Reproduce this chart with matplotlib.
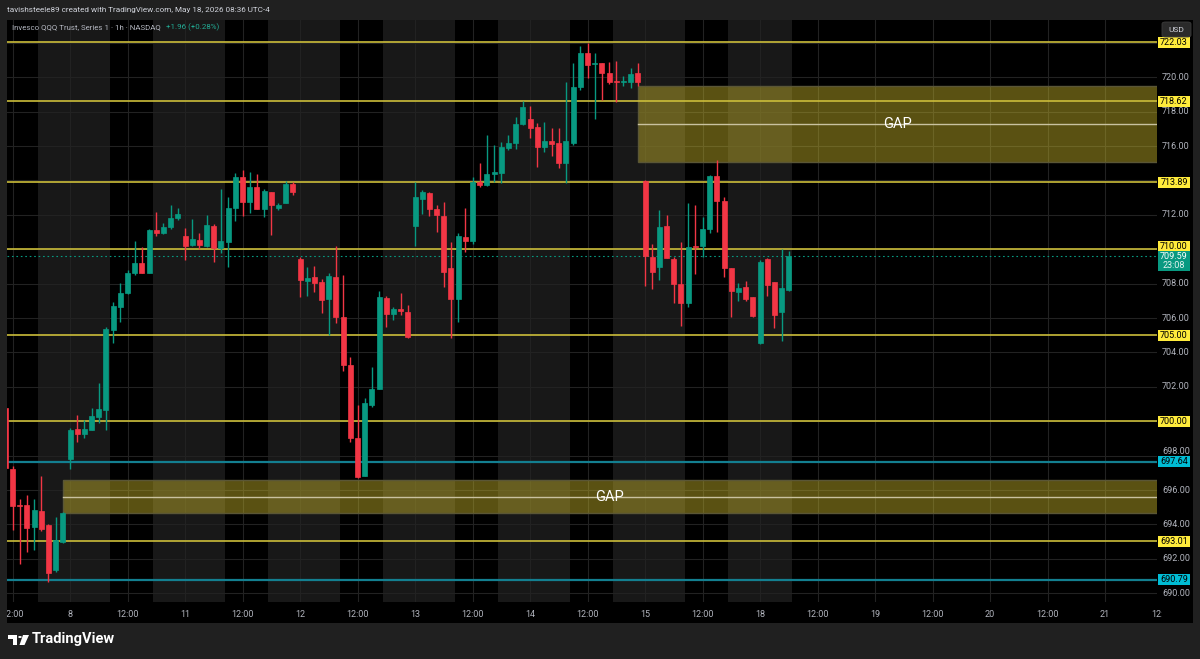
import matplotlib
matplotlib.use('Agg')
import matplotlib.pyplot as plt
from matplotlib.patches import Rectangle, FancyBboxPatch, Polygon, Circle

# ---------------- data ----------------
trading_days = ['05-07', '05-08', '05-11', '05-12', '05-13', '05-14', '05-15', '05-18']
first_hour = 11      # first visible bar on 05-07 (11:00)
last_hour = 8        # last bar on 05-18 (08:00)
session_first_hour = 4
bars_per_day = 16

opens = [700.76, 697.24, 695.15, 695.15, 693.85, 694.8, 693.95, 691.35, 692.95,
         697.8, 699.53, 699.26, 699.5, 700.26, 700.65, 705.3, 706.66, 707.44, 708.6, 709.18, 708.6, 711.1, 710.92, 711.27, 711.83,
         710.77, 710.23, 710.53, 710.19, 711.35, 710.1, 710.44, 712.38, 714.18, 712.73, 713.6, 712.34, 713.34, 712.41, 712.67, 713.77,
         709.43, 708.17, 708.4, 708.09, 707.09, 708.4, 706.06, 703.27, 699.0, 696.81, 700.94, 701.86, 707.14, 706.23, 706.52, 706.37,
         711.35, 712.94, 713.29, 712.34, 711.93, 708.89, 707.12, 710.73, 710.49, 713.92, 713.73, 714.39, 714.45, 715.87, 716.16, 717.28,
         717.55, 717.12, 715.96, 716.29, 716.16, 715.0, 716.19, 719.45, 721.42, 720.78, 720.81, 720.26, 719.76, 719.72, 719.7, 720.23,
         713.97, 709.56, 708.98, 711.35, 709.41, 707.98, 706.85, 710.2, 710.19, 711.17, 714.26, 712.8, 708.92, 707.53, 707.79, 707.24,
         704.56, 709.41, 708.11, 706.33, 707.63]
highs = [700.9, 697.4, 695.5, 695.7, 695.45, 696.8, 694.05, 694.45, 694.7,
         699.6, 700.36, 700.1, 700.75, 702.2, 705.5, 706.95, 708.05, 708.8, 710.5, 710.15, 711.15, 712.15, 711.5, 712.6, 712.4,
         711.25, 711.75, 710.92, 712.0, 711.47, 713.5, 713.05, 714.41, 714.6, 714.47, 714.4, 713.48, 713.34, 712.7, 713.98, 713.9,
         709.53, 708.98, 709.0, 708.25, 708.63, 710.19, 708.5, 703.71, 700.94, 701.33, 703.17, 707.57, 707.28, 706.63, 707.44, 706.76,
         713.92, 713.44, 713.33, 712.57, 712.73, 710.44, 710.92, 712.38, 714.22, 715.03, 716.64, 716.06, 716.25, 716.64, 717.67, 718.63,
         718.33, 717.35, 717.41, 717.03, 717.03, 719.74, 720.81, 721.81, 722.0, 721.39, 720.84, 720.9, 720.96, 720.1, 720.52, 720.84,
         714.0, 710.28, 712.28, 711.99, 709.53, 710.44, 712.67, 712.57, 711.89, 714.31, 715.19, 713.05, 708.92, 708.02, 708.17, 707.24,
         709.37, 709.47, 708.11, 710.01, 709.91]
lows = [697.2, 693.7, 691.7, 692.4, 692.5, 693.6, 690.65, 691.25, 692.9,
        697.2, 698.8, 699.0, 699.5, 699.9, 699.5, 704.56, 705.78, 707.4, 708.5, 708.6, 708.6, 710.77, 710.9, 711.2, 711.7,
        709.37, 710.2, 710.0, 710.15, 709.27, 709.76, 708.95, 711.66, 711.93, 712.12, 712.32, 711.89, 710.83, 712.3, 712.67, 713.15,
        707.24, 707.3, 707.53, 706.27, 705.0, 705.69, 702.94, 698.81, 696.7, 696.8, 700.84, 701.86, 705.49, 705.9, 706.2, 704.85,
        710.19, 712.03, 711.96, 711.02, 707.82, 704.86, 705.78, 709.85, 710.3, 713.63, 713.7, 713.92, 713.87, 715.8, 715.81, 717.2,
        716.45, 714.8, 715.63, 715.42, 714.7, 713.87, 716.06, 719.26, 719.94, 717.55, 718.67, 719.6, 718.58, 719.5, 719.35, 719.49,
        707.86, 707.67, 708.21, 709.5, 706.85, 705.55, 706.66, 708.56, 709.53, 710.96, 711.02, 708.37, 706.06, 707.0, 707.0, 706.08,
        704.49, 707.3, 705.4, 704.68, 707.6]
closes = [697.26, 695.1, 695.05, 693.8, 694.85, 693.75, 691.2, 693.1, 694.65,
          699.5, 699.24, 699.53, 700.32, 700.71, 705.36, 706.71, 707.44, 708.63, 709.21, 708.6, 711.1, 710.92, 711.29, 711.8, 712.03,
          710.19, 710.6, 710.24, 711.41, 710.05, 710.48, 712.38, 714.18, 712.76, 713.6, 712.32, 713.38, 712.57, 712.57, 713.77, 713.34,
          708.21, 708.34, 708.05, 707.05, 708.44, 706.08, 703.27, 699.0, 696.77, 701.04, 701.86, 707.24, 706.23, 706.52, 706.4, 704.88,
          713.05, 713.33, 712.34, 711.99, 708.69, 707.09, 710.77, 710.49, 713.89, 713.72, 714.37, 714.5, 715.92, 716.16, 717.28, 718.28,
          717.03, 715.96, 716.31, 716.12, 715.0, 716.29, 719.45, 721.42, 720.71, 720.84, 720.26, 719.7, 719.72, 719.78, 720.17, 719.7,
          709.6, 708.69, 711.27, 709.51, 707.98, 706.85, 710.15, 710.15, 711.17, 714.26, 712.8, 708.89, 707.57, 707.73, 707.09, 706.12,
          709.27, 707.92, 706.17, 707.73, 709.59]

yellow_levels = [722.03, 718.62, 713.89, 710.00, 705.00, 700.00, 693.01]
cyan_levels = [697.64, 690.79]
last_price = 709.59
countdown = '23:08'
gap_zones = [(79, 715.10, 719.48), (-1, 694.64, 696.56)]   # (start bar, low, high)
gap_label = 'GAP'
axis_days = ['7', '8', '11', '12', '13', '14', '15', '18', '19', '20', '21']
price_ticks = [690, 692, 694, 696, 698, 702, 704, 706, 708, 712, 716, 718, 720]

# bar positions from the trading calendar (16 hourly bars per session day, 04:00-19:00)
bar_pos = []
for di, d in enumerate(trading_days):
    for h in range(session_first_hour, session_first_hour + bars_per_day):
        if di == 0 and h < first_hour:
            continue
        if di == len(trading_days) - 1 and h > last_hour:
            continue
        bar_pos.append((di - 1) * bars_per_day + (h - session_first_hour))

# ---------------- style ----------------
W, H = 1200, 659
GREEN = '#089981'
RED = '#f23645'
YEL_LINE = '#cbbd3a'
YEL_TAG = '#ffeb3b'
CYAN_LINE = '#137f90'
CYAN_TAG = '#00bcd4'
TXT = '#b2b5be'
FONT = ['Roboto', 'DejaVu Sans']
plt.rcParams['font.family'] = FONT

fig = plt.figure(figsize=(12, 6.59), dpi=100)
fig.patch.set_facecolor('#202020')

px_left, px_right, px_top, px_bottom = 7, 1157, 20, 602
X0, X1 = -8.77, 151.23
Y0, Y1 = 689.49, 723.33

def fx(px):
    return px / W

def fy(py):
    return 1 - py / H

panel = fig.add_axes([fx(7), fy(623), fx(1193 - 7), (623 - 20) / H])
panel.set_facecolor('#000000')
panel.set_xticks([]); panel.set_yticks([])
for s in panel.spines.values():
    s.set_visible(False)
panel.set_zorder(0)

ax = fig.add_axes([fx(px_left), fy(px_bottom), (px_right - px_left) / W, (px_bottom - px_top) / H])
ax.set_zorder(1)
ax.set_facecolor('none')
ax.set_xlim(X0, X1)
ax.set_ylim(Y0, Y1)
ax.set_xticks([]); ax.set_yticks([])
for s in ax.spines.values():
    s.set_visible(False)

# extended-hours shading (post-market + next pre-market)
n_days = len(trading_days)
for di in range(n_days - 1):
    start = (di - 1) * bars_per_day + 11.5
    end = di * bars_per_day + 5.5
    if di == n_days - 2:
        end = bar_pos[-1] + 0.5
    ax.axvspan(start, end, color='#181818', lw=0, zorder=0)

# grid
for d in range(-1, len(axis_days) - 1):
    for off in (0, 8):
        ax.axvline(d * bars_per_day + off, color='#222222', lw=0.8, zorder=0.5)
for p in range(690, 724, 2):
    ax.axhline(p, color='#222222', lw=0.8, zorder=0.5)

# gap zones
for start, lo, hi in gap_zones:
    ax.add_patch(Rectangle((start, lo), X1 - start + 5, hi - lo, facecolor='#c8b52a', alpha=0.45,
                           edgecolor='none', zorder=1))
    ax.add_patch(Rectangle((start, lo), X1 - start + 5, hi - lo, facecolor='none',
                           edgecolor='#5a5636', lw=1.0, zorder=1.1))
    mid = (lo + hi) / 2
    ax.plot([start, X1 + 5], [mid, mid], color='#c9c2a0', lw=1.0, zorder=1.2)
    ax.text((start + X1) / 2, mid, gap_label, color='white', fontsize=10.5, ha='center', va='center',
            zorder=6, family=FONT)

# levels
for lv in yellow_levels:
    ax.axhline(lv, color=YEL_LINE, lw=1.2, zorder=2)
for lv in cyan_levels:
    ax.axhline(lv, color=CYAN_LINE, lw=1.6, zorder=2)
ax.axhline(last_price, color=GREEN, lw=0.8, ls=(0, (1.5, 2.5)), zorder=2)

# candles
bw = 0.7
for x, o, h, l, c in zip(bar_pos, opens, highs, lows, closes):
    col = GREEN if c >= o else RED
    ax.plot([x, x], [l, h], color=col, lw=1.0, zorder=3, solid_capstyle='butt')
    lo_b = min(o, c)
    hb = max(abs(c - o), 0.06)
    ax.add_patch(Rectangle((x - bw / 2, lo_b), bw, hb, facecolor=col, edgecolor=col, lw=0.5, zorder=4))

# ---------------- right price scale ----------------
rax = fig.add_axes([fx(px_right), fy(px_bottom), (1193 - px_right) / W, (px_bottom - px_top) / H])
rax.set_zorder(2)
rax.set_facecolor('none')
rax.set_xlim(0, 36)
rax.set_ylim(Y0, Y1)
rax.set_xticks([]); rax.set_yticks([])
for s in rax.spines.values():
    s.set_visible(False)
for p in price_ticks:
    yy = p + 0.25 if p == 698 else p
    rax.text(19, yy, f'{p:.2f}', color=TXT, fontsize=6.5, ha='center', va='center', zorder=1)

ppx = (Y1 - Y0) / (px_bottom - px_top)   # price per pixel
def tag(price, face, text, center=None, txtcol='black', h=11):
    c = price if center is None else center
    rax.add_patch(Rectangle((1, c - h / 2 * ppx), 32, h * ppx, facecolor=face, edgecolor='none', zorder=3))
    rax.text(17, c, text, color=txtcol, fontsize=6.5, ha='center', va='center', zorder=4)

for lv in yellow_levels:
    if lv == 710.00:
        tag(lv, YEL_TAG, f'{lv:.2f}', center=lv + 3.2 * ppx)
    else:
        tag(lv, YEL_TAG, f'{lv:.2f}')
for lv in cyan_levels:
    tag(lv, CYAN_TAG, f'{lv:.2f}')
top = last_price + 5.5 * ppx
rax.add_patch(Rectangle((1, top - 20 * ppx), 32, 20 * ppx, facecolor=GREEN, edgecolor='none', zorder=3))
rax.text(17, last_price, f'{last_price:.2f}', color='white', fontsize=6.5, ha='center', va='center', zorder=4)
rax.text(17, last_price - 9.5 * ppx, countdown, color='#e6f4f1', fontsize=6.5, ha='center', va='center', zorder=4)

# ---------------- time axis ----------------
clip_px = 1162
bax = fig.add_axes([fx(px_left), fy(623), (clip_px - px_left) / W, (623 - px_bottom) / H])
bax.set_zorder(2)
bax.set_facecolor('none')
bax.set_xlim(X0, X0 + (X1 - X0) * (clip_px - px_left) / (px_right - px_left))
bax.set_ylim(0, 1)
bax.set_xticks([]); bax.set_yticks([])
for s in bax.spines.values():
    s.set_visible(False)
for i, dl in enumerate(axis_days):
    base = (i - 1) * bars_per_day
    if base > X0:
        bax.text(base, 0.4, dl, color=TXT, fontsize=6.5, ha='center', va='center', clip_on=True)
    bax.text(base + 8, 0.4, '12:00', color=TXT, fontsize=6.5, ha='center', va='center', clip_on=True)

# USD button
fig.patches.append(FancyBboxPatch((fx(1162), fy(37)), fx(29), 15 / H, boxstyle='round,pad=0,rounding_size=0.003',
                                  facecolor='#2a2a2a', edgecolor='#3c3c3c', lw=0.6, transform=fig.transFigure,
                                  figure=fig, zorder=5))
fig.text(fx(1176.5), fy(29.5), 'USD', color='#d1d4dc', fontsize=6, ha='center', va='center', zorder=6)

# ---------------- header / legend ----------------
fig.text(fx(7), fy(10), 'tavishsteele89 created with TradingView.com, May 18, 2026 08:36 UTC-4',
         color='#d1d4dc', fontsize=5.9, ha='left', va='center')
t1 = fig.text(fx(12), fy(27.5), 'Invesco QQQ Trust, Series 1 \u00b7 1h \u00b7 NASDAQ', color=TXT, fontsize=5.7,
              ha='left', va='center')
fig.canvas.draw()
bb = t1.get_window_extent()
fig.text((bb.x1 + 5) / W, fy(27.5), '+1.96 (+0.28%)', color='#22ab94', fontsize=5.7, ha='left', va='center')

# ---------------- footer logo ----------------
def poly(pts, col):
    fig.patches.append(Polygon([(fx(a), fy(b)) for a, b in pts], closed=True, facecolor=col, edgecolor='none',
                               transform=fig.transFigure, figure=fig))
poly([(8, 635), (17, 635), (17, 645), (13, 645), (13, 639), (8, 639)], 'white')
fig.patches.append(Circle((fx(20), fy(637)), 1.8 / W, transform=fig.transFigure, figure=fig,
                          facecolor='white', edgecolor='none'))
poly([(23, 635), (29, 635), (24.5, 645), (19.5, 645)], 'white')
fig.text(fx(32), fy(639.5), 'TradingView', color='white', fontsize=10.5, fontweight='bold', ha='left',
         va='center')

fig.savefig('out.png', dpi=100, facecolor=fig.get_facecolor())
